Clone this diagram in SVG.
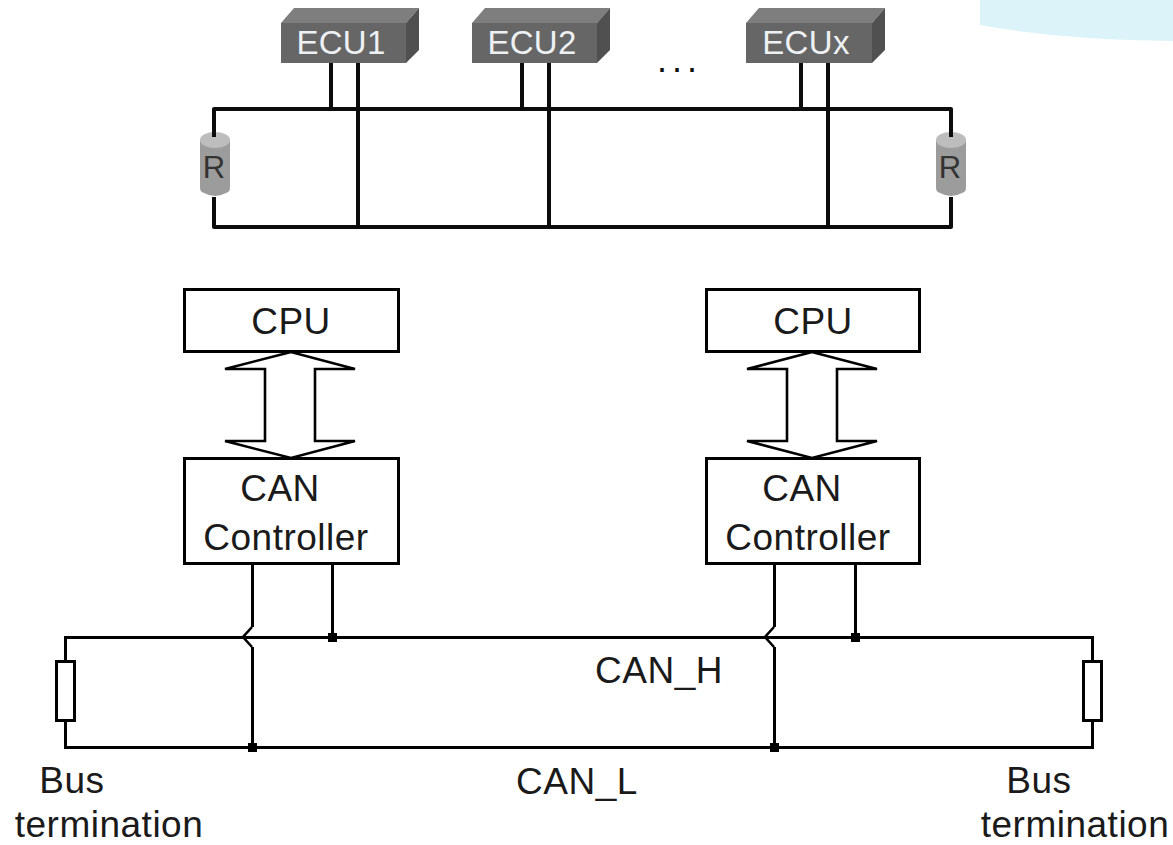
<svg xmlns="http://www.w3.org/2000/svg" width="1173" height="845" viewBox="0 0 1173 845">
<style>
.w{fill:none;stroke:#0c0c0c;stroke-width:4;stroke-linejoin:round}
.thin{fill:none;stroke:#000;stroke-width:3;shape-rendering:crispEdges}
.bus{fill:none;stroke:#000;stroke-width:2.6}
.box{fill:#fff;stroke:#000;stroke-width:3;shape-rendering:crispEdges}
.term{fill:#fff;stroke:#000;stroke-width:3;shape-rendering:crispEdges}
.front{fill:#666}.top{fill:#7e7e7e}.side{fill:#505050}
.body{fill:#9c9c9c}.cap{fill:#bdbdbd}
.ecu{font:33px "Liberation Sans",Arial,sans-serif;fill:#eef1f4;letter-spacing:.3px;text-anchor:middle}
.r{font:31px "Liberation Sans",Arial,sans-serif;fill:#333;text-anchor:middle}
.lbl{font:37px "Liberation Sans",Arial,sans-serif;fill:#1a1a1a;letter-spacing:.5px;text-anchor:middle}
.dot{fill:#000}
</style>
<rect width="1173" height="845" fill="#fff"/>
<path id="corner" d="M980 0H1173V41Q1060 40 980 25Z" fill="#dcf4f9"/>

<g id="r-left">
<path class="body" d="M200 140H230V188Q230 192 226 193Q215 199 204 193Q200 192 200 188Z"/><ellipse class="cap" cx="215" cy="140" rx="15" ry="8"/>
<text class="r" x="214" y="178">R</text>
</g>
<g id="r-right">
<path class="body" d="M936 140H966V188Q966 192 962 193Q951 199 940 193Q936 192 936 188Z"/><ellipse class="cap" cx="951" cy="140" rx="15" ry="8"/>
<text class="r" x="950" y="178">R</text>
</g>

<g id="connectors">
<path class="w" d="M214 137V109H951V137M214 197V227H951V197"/>
<path class="w" d="M331 63V109M358 63V227M522 63V109M549 63V227M801 63V109M828 63V227"/>
<path class="thin" d="M252 564V627M252 647V747M332 564V637M774 564V627M774 647V747M855 564V637"/>
<path class="bus" d="M252 627L243 637L252 647M774 627L765 637L774 647"/>
<path class="thin" d="M65.500 661V637.500H1092.500V661M65.500 720V747.500H1092.500V720"/>
<path id="bus-left" class="bus" d="M291 352L225 369H265V441H225L291 458L355 441H315V369H355Z"/>
<path id="bus-right" class="bus" d="M812 352L747 369H787V441H747L812 458L877 441H837V369H877Z"/>
<rect class="dot" x="328" y="633" width="9" height="9"/>
<rect class="dot" x="851" y="633" width="9" height="9"/>
<rect class="dot" x="248" y="743" width="9" height="9"/>
<rect class="dot" x="770" y="743" width="9" height="9"/>
</g>

<g id="ecu1">
<path class="top" d="M281 23L294 8H419L406 23Z"/><path class="side" d="M406 23L419 8V50L406 63Z"/><rect class="front" x="281" y="23" width="125" height="40"/>
<text class="ecu" x="341" y="54">ECU1</text>
</g>
<g id="ecu2">
<path class="top" d="M472 23L485 8H610L597 23Z"/><path class="side" d="M597 23L610 8V50L597 63Z"/><rect class="front" x="472" y="23" width="125" height="40"/>
<text class="ecu" x="532" y="54">ECU2</text>
</g>
<g id="ecux">
<path class="top" d="M746 23L759 8H885L872 23Z"/><path class="side" d="M872 23L885 8V50L872 63Z"/><rect class="front" x="746" y="23" width="126" height="40"/>
<text class="ecu" x="806" y="54">ECUx</text>
</g>
<text id="dots" x="657" y="72" style="font:36px 'Liberation Sans',Arial,sans-serif;fill:#111;letter-spacing:5px">...</text>

<g id="cpu-left"><rect class="box" x="184.500" y="289.500" width="214" height="62"/><text class="lbl" x="291" y="334">CPU</text></g>
<g id="cpu-right"><rect class="box" x="706.500" y="289.500" width="213" height="62"/><text class="lbl" x="813" y="334">CPU</text></g>
<g id="can-left"><rect class="box" x="184.500" y="458.500" width="214" height="105"/><text class="lbl" x="280" y="501">CAN</text><text class="lbl" x="286" y="550">Controller</text></g>
<g id="can-right"><rect class="box" x="706.500" y="458.500" width="213" height="105"/><text class="lbl" x="802" y="501">CAN</text><text class="lbl" x="808" y="550">Controller</text></g>

<g id="term-left"><rect class="term" x="56.500" y="661.500" width="18" height="59"/></g>
<g id="term-right"><rect class="term" x="1083.500" y="661.500" width="18" height="59"/></g>

<text class="lbl" x="659" y="683">CAN_H</text>
<text class="lbl" x="577" y="794">CAN_L</text>
<text class="lbl" x="72" y="793">Bus</text>
<text class="lbl" x="109" y="837">termination</text>
<text class="lbl" x="1039" y="793">Bus</text>
<text class="lbl" x="1075" y="837">termination</text>
</svg>
